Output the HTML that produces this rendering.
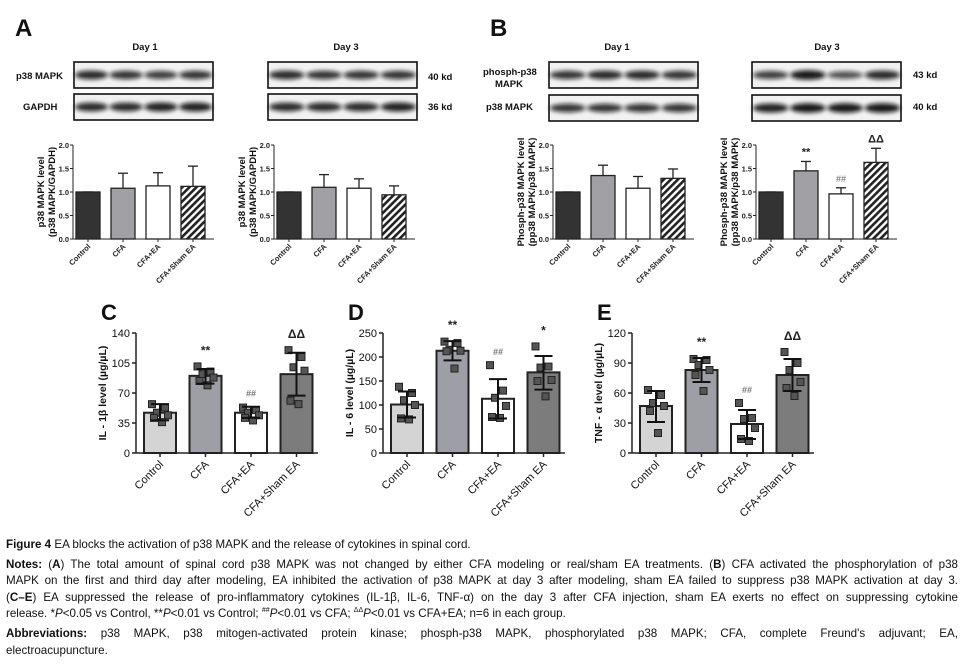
<!DOCTYPE html>
<html><head><meta charset="utf-8">
<style>
html,body{margin:0;padding:0;background:#fff;width:964px;height:666px;overflow:hidden;}
svg{position:absolute;left:0;top:0;}
.cap{position:absolute;left:6px;width:952px;font-family:"Liberation Sans",sans-serif;font-size:11.6px;color:#111;line-height:16.6px;}
.ln{text-align:justify;text-align-last:justify;white-space:nowrap;height:16.6px;}
.ln.last{text-align-last:left;}
sup{font-size:7px;vertical-align:baseline;position:relative;top:-5px;line-height:0;}
</style></head><body>
<svg id="fig" width="964" height="530" viewBox="0 0 964 530" font-family="Liberation Sans, sans-serif">
<defs>
<filter id="blur" x="-20%" y="-100%" width="140%" height="300%"><feGaussianBlur stdDeviation="2.2"/></filter>
<pattern id="hatch" width="5" height="5" patternUnits="userSpaceOnUse" patternTransform="rotate(45)">
<rect width="5" height="5" fill="#fff"/><rect width="2.6" height="5" fill="#222"/></pattern>
</defs>
</svg>
<div class="cap" style="top:537px">
<div class="ln last"><b>Figure 4</b> EA blocks the activation of p38 MAPK and the release of cytokines in spinal cord.</div>
<div class="ln" style="margin-top:3px"><b>Notes:</b> (<b>A</b>) The total amount of spinal cord p38 MAPK was not changed by either CFA modeling or real/sham EA treatments. (<b>B</b>) CFA activated the phosphorylation of p38</div>
<div class="ln">MAPK on the first and third day after modeling, EA inhibited the activation of p38 MAPK at day 3 after modeling, sham EA failed to suppress p38 MAPK activation at day 3.</div>
<div class="ln">(<b>C–E</b>) EA suppressed the release of pro-inflammatory cytokines (IL-1β, IL-6, TNF-α) on the day 3 after CFA injection, sham EA exerts no effect on suppressing cytokine</div>
<div class="ln last">release. *<i>P</i>&lt;0.05 vs Control, **<i>P</i>&lt;0.01 vs Control; <sup>##</sup><i>P</i>&lt;0.01 vs CFA; <sup>ΔΔ</sup><i>P</i>&lt;0.01 vs CFA+EA; n=6 in each group.</div>
<div class="ln" style="margin-top:3px"><b>Abbreviations:</b> p38 MAPK, p38 mitogen-activated protein kinase; phosph-p38 MAPK, phosphorylated p38 MAPK; CFA, complete Freund's adjuvant; EA,</div>
<div class="ln last">electroacupuncture.</div>
</div>
<script>
// ---- data ----
const groups = ["Control","CFA","CFA+EA","CFA+Sham EA"];
const a1Values = [1.0,1.08,1.13,1.12];
const a1ErrTop = [1.0,1.40,1.41,1.55];
const a2Values = [1.0,1.10,1.08,0.94];
const a2ErrTop = [1.0,1.37,1.28,1.13];
const b1Values = [1.0,1.35,1.08,1.29];
const b1ErrTop = [1.0,1.57,1.33,1.49];
const b2Values = [1.0,1.45,0.96,1.63];
const b2ErrTop = [1.0,1.65,1.09,1.93];
const b2Marks = ["","**","##","ΔΔ"];
const abTicks = ["0.0","0.5","1.0","1.5","2.0"];

const cMeans = [47,90,47,92];
const cSdLo = [38,81,41,67];
const cSdHi = [57,98,54,117];
const cPoints = [[57,53,47,44,41,36],[101,95,92,88,84,79],[53,50,47,44,41,38],[120,112,100,96,61,57]];
const cTicks = [0,35,70,105,140];
const cMarks = ["","**","##","ΔΔ"];

const dMeans = [101,213,113,168];
const dSdLo = [74,193,72,132];
const dSdHi = [128,233,154,202];
const dPoints = [[138,125,110,100,72,70],[232,229,215,213,212,176],[183,130,115,98,75,73],[222,180,178,152,150,118]];
const dTicks = [0,50,100,150,200,250];
const dMarks = ["","**","##","*"];

const eMeans = [47,83,29,78];
const eSdLo = [31,71,14,62];
const eSdHi = [62,95,43,94];
const ePoints = [[63,58,50,47,42,20],[94,93,88,83,78,62],[50,35,34,25,14,12],[101,90,83,71,65,57]];
const eTicks = [0,30,60,90,120];
const eMarks = ["","**","##","ΔΔ"];

const NS="http://www.w3.org/2000/svg";
const svg=document.getElementById('fig');
function mk(tag,attrs,parent,txt){const e=document.createElementNS(NS,tag);for(const k in attrs)e.setAttribute(k,attrs[k]);if(txt!==undefined)e.textContent=txt;(parent||svg).appendChild(e);return e;}

function txt(x,y,s,size,weight,anchor,name,extra){
  const t=mk('text',Object.assign({x:x,y:y,'font-size':size,'font-weight':weight||'normal','text-anchor':anchor||'middle',fill:'#111'},extra||{}),svg,s);
  
  
  return t;
}

// ---- blots ----
function blot(x,y,w,h,intens,name){
  const g=mk('g',{});
  
  
  mk('rect',{x:x,y:y,width:w,height:h,fill:'#f2f2f2',stroke:'#111','stroke-width':1.6},g);
  const lw=w/4;
  intens.forEach((v,i)=>{
    const b=mk('ellipse',{cx:x+lw*(i+0.5),cy:y+h*0.5,rx:lw*0.48,ry:3.2+v*1.5,fill:'#111',opacity:0.55+0.4*v,filter:'url(#blur)'},g);
    
    
  });
}
txt(15,36,"A",24,'bold','start','panel-a-label');
txt(145,50,"Day 1",9.5,'bold','middle','panel-a-day1-title');
txt(346,50,"Day 3",9.5,'bold','middle','panel-a-day3-title');
txt(16,79,"p38 MAPK",9.5,'bold','start','blot-label-p38');
txt(23,110,"GAPDH",9.5,'bold','start','blot-label-gapdh');
txt(428,80,"40 kd",9.5,'bold','start','kd-40-a');
txt(428,110,"36 kd",9.5,'bold','start','kd-36-a');
blot(74,62,139,26,[0.8,0.7,0.6,0.7],'blot-a-day1-p38');
blot(74,94,139,26,[0.8,0.8,0.9,0.9],'blot-a-day1-gapdh');
blot(268,62,149,26,[0.8,0.7,0.7,0.7],'blot-a-day3-p38');
blot(268,94,149,26,[0.8,0.8,0.8,0.9],'blot-a-day3-gapdh');

txt(490,36,"B",24,'bold','start','panel-b-label');
txt(617,50,"Day 1",9.5,'bold','middle','panel-b-day1-title');
txt(827,50,"Day 3",9.5,'bold','middle','panel-b-day3-title');
txt(483,75,"phosph-p38",9.5,'bold','start','blot-label-phosph');
txt(495,87,"MAPK",9.5,'bold','start','blot-label-phosph-2');
txt(486,110,"p38 MAPK",9.5,'bold','start','blot-label-p38-b');
txt(913,78,"43 kd",9.5,'bold','start','kd-43-b');
txt(913,110,"40 kd",9.5,'bold','start','kd-40-b');
blot(549,62,149,26,[0.7,0.8,0.8,0.7],'blot-b-day1-phosph');
blot(549,95,149,26,[0.7,0.7,0.7,0.7],'blot-b-day1-p38');
blot(752,62,149,26,[0.6,1.0,0.4,0.8],'blot-b-day3-phosph');
blot(752,95,149,26,[0.9,1.0,1.0,1.0],'blot-b-day3-p38');

// ---- small bar charts (A, B) ----
const abFills=['#333','#a0a0a5','#fff','url(#hatch)'];
function smallChart(ax,values,errTop,marks,lab1,lab2,name){
  const y0=239, ppu=47;
  const y=v=>y0-v*ppu;
  const g=mk('g',{});
  
  
  mk('line',{x1:ax,y1:y0,x2:ax+141,y2:y0,stroke:'#222','stroke-width':1},g);
  mk('line',{x1:ax,y1:y0,x2:ax,y2:y(2),stroke:'#222','stroke-width':1},g);
  abTicks.forEach(t=>{
    const v=parseFloat(t);
    mk('line',{x1:ax-3,y1:y(v),x2:ax,y2:y(v),stroke:'#222'},g);
    const tt=mk('text',{x:ax-4,y:y(v)+3,'font-size':7.5,'font-weight':'bold','text-anchor':'end',fill:'#222'},g,t);
    
    
  });
  values.forEach((v,i)=>{
    const cx=ax+15+35*i;
    mk('line',{x1:cx,y1:y(v),x2:cx,y2:y(errTop[i]),stroke:'#222','stroke-width':1.3},g);
    mk('line',{x1:cx-5,y1:y(errTop[i]),x2:cx+5,y2:y(errTop[i]),stroke:'#222','stroke-width':1.3},g);
    const b=mk('rect',{x:cx-12,y:y(v),width:24,height:v*ppu,fill:abFills[i],stroke:'#222','stroke-width':1.3},g);
    
    
    mk('line',{x1:cx,y1:y0,x2:cx,y2:y0+3,stroke:'#222'},g);
    const xl=mk('text',{x:cx+3,y:y0+8,'font-size':7.5,'font-weight':'bold','text-anchor':'end',fill:'#222',transform:`rotate(-45 ${cx+3} ${y0+8})`},g,groups[i]);
    
    
    if(marks&&marks[i]){
      const m=mk('text',{x:cx,y:y(errTop[i])-6,'font-size':marks[i]=='##'?9:11,'font-weight':marks[i]=='##'?'normal':'bold','text-anchor':'middle',fill:marks[i]=='##'?'#666':'#222'},g,marks[i]);
      
      
    }
  });
  const cy=y(1);
  const l1=mk('text',{x:ax-29,y:cy,'font-size':9.5,'font-weight':'bold','text-anchor':'middle',fill:'#111',transform:`rotate(-90 ${ax-29} ${cy})`},g,lab1);
  
  
  const l2=mk('text',{x:ax-18,y:cy,'font-size':9.5,'font-weight':'bold','text-anchor':'middle',fill:'#111',transform:`rotate(-90 ${ax-18} ${cy})`},g,lab2);
  
  
}
smallChart(73,a1Values,a1ErrTop,null,"p38 MAPK level","(p38 MAPK/GAPDH)",'chart-a-day1');
smallChart(274,a2Values,a2ErrTop,null,"p38 MAPK level","(p38 MAPK/GAPDH)",'chart-a-day3');
smallChart(553,b1Values,b1ErrTop,null,"Phosph-p38 MAPK level","(pp38 MAPK/p38 MAPK)",'chart-b-day1');
smallChart(756,b2Values,b2ErrTop,b2Marks,"Phosph-p38 MAPK level","(pp38 MAPK/p38 MAPK)",'chart-b-day3');

// ---- scatter-bar charts (C, D, E) ----
const cdeFills=['#d4d4d4','#9e9ea6','#fff','#7c7c7c'];
const jitter=[-8,5,-3,8,-6,2];
function bigChart(ax,means,lo,hi,pts,ticks,marks,letter,ylab,name){
  const y0=453, h=120, max=ticks[ticks.length-1];
  const y=v=>y0-v/max*h;
  const g=mk('g',{});
  
  
  const L=mk('text',{x:ax-35,y:320,'font-size':22,'font-weight':'bold','text-anchor':'start',fill:'#111'},g,letter);
  
  
  mk('line',{x1:ax,y1:y0,x2:ax+182,y2:y0,stroke:'#222','stroke-width':1.5},g);
  mk('line',{x1:ax,y1:y0,x2:ax,y2:y(max),stroke:'#222','stroke-width':1.5},g);
  ticks.forEach(t=>{
    mk('line',{x1:ax-4,y1:y(t),x2:ax,y2:y(t),stroke:'#222','stroke-width':1.5},g);
    const tt=mk('text',{x:ax-6,y:y(t)+4,'font-size':11,'text-anchor':'end',fill:'#111'},g,String(t));
    
    
  });
  means.forEach((v,i)=>{
    const cx=ax+24+45.5*i;
    const b=mk('rect',{x:cx-16,y:y(v),width:32,height:y0-y(v),fill:cdeFills[i],stroke:'#222','stroke-width':2},g);
    
    
    pts[i].forEach((p,k)=>{
      const d=mk('rect',{x:cx+jitter[k]-3.5,y:y(p)-3.5,width:7,height:7,fill:'#555',stroke:'#222','stroke-width':1},g);
      
      
    });
    mk('line',{x1:cx,y1:y(lo[i]),x2:cx,y2:y(hi[i]),stroke:'#111','stroke-width':2},g);
    mk('line',{x1:cx-9,y1:y(lo[i]),x2:cx+9,y2:y(lo[i]),stroke:'#111','stroke-width':2},g);
    mk('line',{x1:cx-9,y1:y(hi[i]),x2:cx+9,y2:y(hi[i]),stroke:'#111','stroke-width':2},g);
    mk('line',{x1:cx,y1:y0,x2:cx,y2:y0+4,stroke:'#222','stroke-width':1.5},g);
    const xl=mk('text',{x:cx+4,y:y0+12,'font-size':11,'text-anchor':'end',fill:'#111',transform:`rotate(-45 ${cx+4} ${y0+12})`},g,groups[i]);
    
    
    if(marks[i]){
      const top=Math.max(hi[i],Math.max(...pts[i]));
      const m=mk('text',{x:cx,y:y(top)-(marks[i]=='##'?10:12),'font-size':marks[i]=='##'?9:12,'font-weight':'bold','text-anchor':'middle',fill:marks[i]=='##'?'#777':'#222'},g,marks[i]);
      
      
    }
  });
  const cy=y0-h/2;
  const lt=mk('text',{x:ax-30,y:cy,'font-size':10.5,'font-weight':'bold','text-anchor':'middle',fill:'#111',transform:`rotate(-90 ${ax-30} ${cy})`},g,ylab);
  
  
}
bigChart(136,cMeans,cSdLo,cSdHi,cPoints,cTicks,cMarks,"C","IL - 1β level (µg/µL)",'chart-c-il1b');
bigChart(383,dMeans,dSdLo,dSdHi,dPoints,dTicks,dMarks,"D","IL - 6 level (µg/µL)",'chart-d-il6');
bigChart(632,eMeans,eSdLo,eSdHi,ePoints,eTicks,eMarks,"E","TNF - α level (µg/µL)",'chart-e-tnfa');
</script>
</body></html>
